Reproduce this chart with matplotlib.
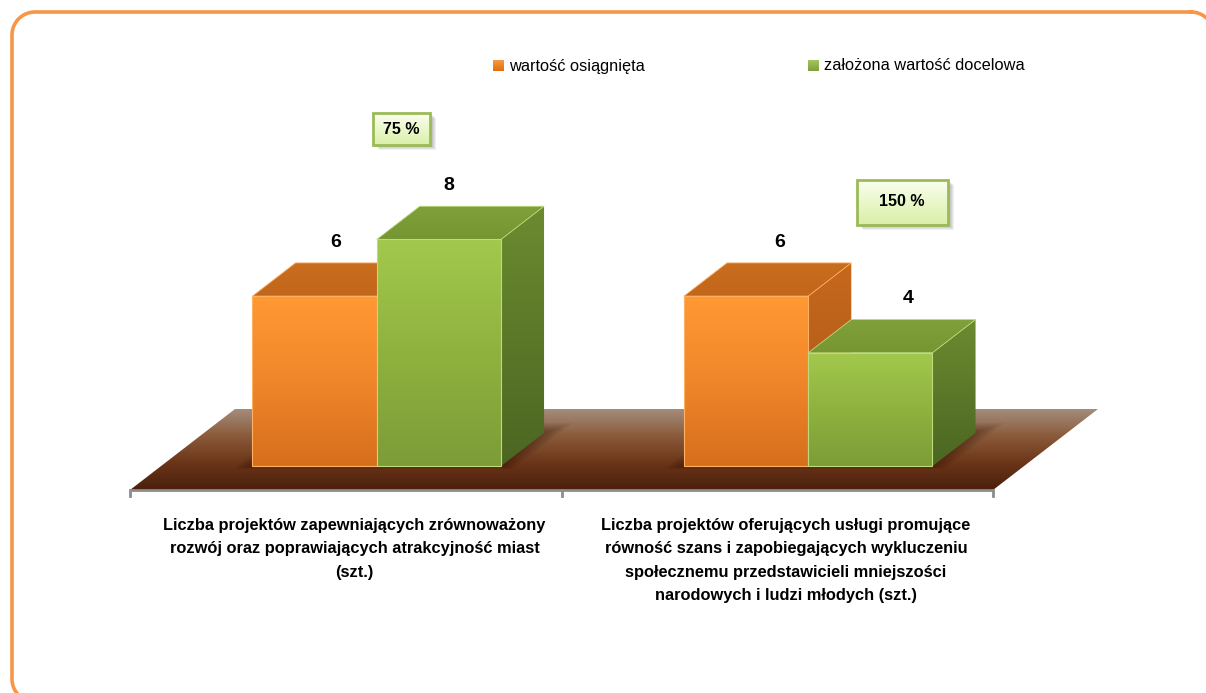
import numpy as np
import matplotlib
matplotlib.use("Agg")
import matplotlib.pyplot as plt
from matplotlib.patches import Polygon, Rectangle
from matplotlib.colors import LinearSegmentedColormap

categories = [
    "Liczba projektów zapewniających zrównoważony\nrozwój oraz poprawiających atrakcyjność miast\n(szt.)",
    "Liczba projektów oferujących usługi promujące\nrówność szans i zapobiegających wykluczeniu\nspołecznemu przedstawicieli mniejszości\nnarodowych i ludzi młodych (szt.)",
]
achieved = [6, 6]
target = [8, 4]
series_names = ["wartość osiągnięta", "założona wartość docelowa"]

W, H = 1206, 693
FONT = ["Liberation Sans", "DejaVu Sans"]

# pseudo-3d geometry (data units)
PX_CAT = 431.5        # pixels per category
PX_VAL = 28.33        # pixels per value unit
KX = 105 / PX_CAT     # floor depth, x shift
KY = 81 / PX_VAL      # floor depth, y shift
BAR_W = 0.288
Z_FRONT, Z_BACK = 0.295, 0.705
# horizontal nudge (px) of each value label: [category][series]
label_dx = [[21, 10], [34, 38]]


def proj(x, y, z):
    return (x + z * KX, y + z * KY)


def grad_poly(ax, verts, colors, zorder, edge=None, lw=0):
    poly = Polygon(verts, closed=True, facecolor="none",
                   edgecolor=edge if edge else "none", lw=lw, zorder=zorder + 0.1)
    ax.add_patch(poly)
    xs = [v[0] for v in verts]
    ys = [v[1] for v in verts]
    cmap = LinearSegmentedColormap.from_list("g", colors[::-1])
    grad = np.linspace(0, 1, 256).reshape(-1, 1)
    im = ax.imshow(grad, extent=(min(xs), max(xs), min(ys), max(ys)), origin="lower",
                   cmap=cmap, aspect="auto", interpolation="bilinear", zorder=zorder)
    im.set_clip_path(poly)
    return poly


fig = plt.figure(figsize=(W / 100, H / 100), dpi=100)
ax = fig.add_axes([0, 0, 1, 1])
ax.axis("off")

# floor
floor = [proj(-0.5, 0, 0), proj(1.5, 0, 0), proj(1.5, 0, 1), proj(-0.5, 0, 1)]
grad_poly(ax, floor, ["#a48d7c", "#8a5a3a", "#6b3518", "#4a1f0c"], 1)

# soft shadows of the bars on the floor
for i in range(len(categories)):
    for k in range(1, 7):
        e = 0.006 * k
        ez = 0.02 * k
        sh = [proj(i - BAR_W - e, 0, Z_FRONT - ez * 0.3), proj(i + BAR_W + e, 0, Z_FRONT - ez * 0.3),
              proj(i + BAR_W + e, 0, Z_BACK + ez), proj(i - BAR_W - e, 0, Z_BACK + ez)]
        ax.add_patch(Polygon(sh, closed=True, facecolor="#1e0800", alpha=0.06, lw=0, zorder=1.5))

# axis line with category ticks
ax.plot([-0.5, 1.5], [0, 0], color="#8c8c8c", lw=2, zorder=2, solid_capstyle="butt")
for t in [-0.5, 0.5, 1.5]:
    ax.plot([t, t], [0, -6 / PX_VAL], color="#8c8c8c", lw=2, zorder=2)

styles = [
    dict(front=["#ff9933", "#f0862a", "#d66f1c"], top=["#c96d1e", "#c2661b"],
         side=["#c7691c", "#a4541a"], edge="#ffb063"),
    dict(front=["#a2c94c", "#8fb23f", "#7c9c37"], top=["#7fa03a", "#769633"],
         side=["#6c8b30", "#4b6622"], edge="#bcdb7c"),
]

for i in range(len(categories)):
    for j, vals in enumerate([achieved, target]):
        v = vals[i]
        x0 = i - BAR_W + j * BAR_W
        x1 = x0 + BAR_W
        st = styles[j]
        zo = 3 + 2 * i + j
        front = [proj(x0, 0, Z_FRONT), proj(x1, 0, Z_FRONT), proj(x1, v, Z_FRONT), proj(x0, v, Z_FRONT)]
        top = [proj(x0, v, Z_FRONT), proj(x1, v, Z_FRONT), proj(x1, v, Z_BACK), proj(x0, v, Z_BACK)]
        side = [proj(x1, 0, Z_FRONT), proj(x1, 0, Z_BACK), proj(x1, v, Z_BACK), proj(x1, v, Z_FRONT)]
        grad_poly(ax, side, st["side"], zo)
        grad_poly(ax, top, st["top"], zo, edge=st["edge"], lw=0.6)
        grad_poly(ax, front, st["front"], zo, edge=st["edge"], lw=0.8)
        lx, ly = proj(x0 + BAR_W / 2, v, Z_FRONT)
        ax.text(lx + label_dx[i][j] / PX_CAT, ly + 54 / PX_VAL, str(v), ha="center",
                va="center", fontsize=14, fontweight="bold", family=FONT, zorder=10)

# category labels
for i, lab in enumerate(categories):
    ax.text(i + 0.02, -28 / PX_VAL, lab, ha="center", va="top", fontsize=11.8,
            fontweight="bold", family=FONT, linespacing=1.7, zorder=10)

ax.set_xlim(-0.5 - 130 / PX_CAT, -0.5 + (W - 130) / PX_CAT)
ax.set_ylim(-(H - 490) / PX_VAL, 490 / PX_VAL)

# overlay in pixel units (y measured upward) for frame, legend and percentage boxes
ov = fig.add_axes([0, 0, 1, 1], facecolor="none")
ov.axis("off")


def Y(y):
    return H - y


# rounded outer frame, partly running off the right and bottom edges
left, top_, right, bottom, r = 12, 12, 1214, 702, 23
corners = [(right - r, top_ + r, 90, 0), (right - r, bottom - r, 0, -90),
           (left + r, bottom - r, -90, -180), (left + r, top_ + r, 180, 90)]
fx, fy = [], []
for cx, cy, a0, a1 in corners:
    ang = np.radians(np.linspace(a0, a1, 20))
    fx.extend(cx + r * np.cos(ang))
    fy.extend(Y(cy) + r * np.sin(ang))
fx.append(fx[0])
fy.append(fy[0])
ov.plot(fx, fy, color="#f79646", lw=2.6, clip_on=False, zorder=1)

legend_x = [493, 808]
leg_cols = [["#f59a46", "#e36c0a"], ["#a5c65e", "#7f9f3a"]]
for k, name in enumerate(series_names):
    sq = [(legend_x[k], Y(71)), (legend_x[k] + 11, Y(71)), (legend_x[k] + 11, Y(60)),
          (legend_x[k], Y(60))]
    grad_poly(ov, sq, leg_cols[k], 5)
    ov.text(legend_x[k] + 16, Y(66), name, ha="left", va="center", fontsize=11.8,
            family=FONT, zorder=6)

# ratio of achieved to target shown in boxes
box_pos = [(401, 129, 57, 32), (902, 202, 91, 45)]
for i in range(len(categories)):
    pct = round(100 * achieved[i] / target[i])
    cx, cy, bw, bh = box_pos[i]
    for k in range(1, 5):
        ov.add_patch(Rectangle((cx - bw / 2 + 2 + k, Y(cy + bh / 2 + 1 + k)), bw, bh,
                               facecolor="#000000", alpha=0.06, lw=0, zorder=4))
    box = [(cx - bw / 2, Y(cy + bh / 2)), (cx + bw / 2, Y(cy + bh / 2)),
           (cx + bw / 2, Y(cy - bh / 2)), (cx - bw / 2, Y(cy - bh / 2))]
    grad_poly(ov, box, ["#fbfff0", "#d9f0a8"], 5, edge="#9bbb59", lw=2)
    ov.text(cx, Y(cy), f"{pct} %", ha="center", va="center", fontsize=11.5,
            fontweight="bold", family=FONT, zorder=7)

ov.set_xlim(0, W)
ov.set_ylim(0, H)

fig.savefig("out.png", dpi=100, facecolor="white")
